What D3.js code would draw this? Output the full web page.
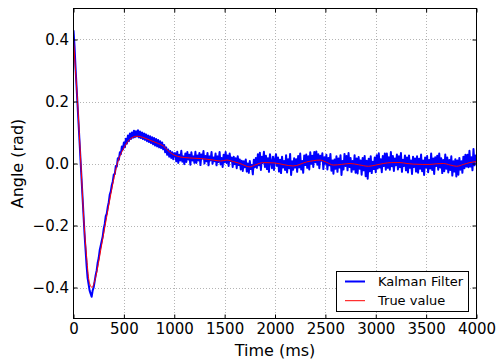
<!DOCTYPE html>
<html>
<head>
<meta charset="utf-8">
<script src="https://cdn.jsdelivr.net/npm/d3@7"></script>
<style>
  html, body { margin: 0; padding: 0; background: #fff; }
  svg { display: block; }
  text { font-family: "DejaVu Sans", sans-serif; fill: #000; }
</style>
</head>
<body>
<svg id="chart" width="500" height="364"></svg>
<script>
// ---------- DATA ----------
const xTicks = [0, 500, 1000, 1500, 2000, 2500, 3000, 3500, 4000];
const yTicks = [-0.4, -0.2, 0.0, 0.2, 0.4];
const xLabel = "Time (ms)";
const yLabel = "Angle (rad)";
const seriesNames = ["Kalman Filter", "True value"];

// True value (read at key times)
const trueTime = [0, 20, 40, 73, 106, 130, 150, 170, 185, 200, 225, 270, 314, 370, 435, 500, 560, 630, 700, 760, 830, 893, 950, 1000, 1060, 1150, 1260, 1390, 1460, 1520, 1590, 1653, 1750, 1800, 1885, 1990, 2090, 2180, 2315, 2447, 2510, 2580, 2660, 2745, 2830, 2927, 3000, 3076, 3160, 3241, 3310, 3373, 3460, 3538, 3600, 3671, 3740, 3803, 3870, 3935, 4000];
const trueValue = [0.40, 0.30, 0.20, 0.0, -0.20, -0.30, -0.37, -0.395, -0.40, -0.39, -0.36, -0.28, -0.20, -0.10, 0.0, 0.05, 0.078, 0.088, 0.083, 0.075, 0.066, 0.056, 0.038, 0.027, 0.021, 0.018, 0.016, 0.011, 0.008, 0.011, 0.006, 0.0, -0.011, -0.005, 0.003, 0.002, -0.004, -0.008, 0.005, 0.011, 0.004, -0.005, -0.003, 0.0, -0.004, -0.009, -0.005, 0.0, 0.003, 0.003, 0.0, -0.002, -0.003, -0.003, -0.001, 0.0, -0.005, -0.009, -0.003, 0.003, 0.006];

// Kalman filter output, one sample every 10 ms from 0 to 4000 ms
const kalmanStep = 10;
const kalmanValue = [
 .43,.38,.31,.25,.19,.13,.07,.01,-.05,-.11,
 -.17,-.23,-.28,-.33,-.37,-.39,-.41,-.42,-.43,-.41,
 -.40,-.38,-.36,-.345,-.32,-.305,-.28,-.265,-.25,-.235,
 -.21,-.195,-.17,-.162,-.14,-.125,-.10,-.09,-.07,-.058,
 -.035,-.034,-.008,-.01,.017,.012,.036,.03,.055,.045,
 .068,.052,.08,.064,.09,.072,.097,.079,.1,.083,
 .106,.085,.104,.087,.107,.084,.103,.082,.1,.079,
 .097,.076,.094,.072,.09,.069,.088,.066,.085,.062,
 .082,.058,.079,.055,.076,.052,.072,.05,.068,.046,
 .06,.036,.052,.028,.045,.022,.04,.018,.036,.014,
 .033,
 .033,.007,.038,.002,.028,.01,.041,.006,.023,-.002,
 .032,.005,.037,.013,.028,-.004,.036,.01,.023,.002,
 .038,.002,.026,.01,.034,-.005,.029,.016,.04,0,
 .024,.007,.034,-.006,.023,.01,.037,-.001,.019,.007,
 .032,-.006,.023,.005,.037,-.003,.018,-.011,.028,.004,
 .037,.002,.026,-.008,.032,.008,.019,-.011,.022,-.002,
 .017,-.015,.023,-.005,.013,-.019,.009,-.024,.007,-.012,
 .013,-.026,0,-.03,.008,-.018,-.005,-.035,.012,-.012,
 .018,-.014,.03,-.006,.035,-.021,.022,.002,.038,-.011,
 .025,-.018,.017,-.027,.03,.005,-.015,.022,-.021,.013,
 .03,-.008,.019,-.026,.012,-.031,.022,-.013,.008,-.021,
 .027,-.029,.014,-.015,.031,-.037,.007,-.02,.017,-.013,
 .014,-.027,.024,-.013,.032,-.019,.008,-.03,.026,-.005,
 .029,-.014,.023,-.019,.036,-.001,.025,-.011,.037,.004,
 .039,-.004,.03,-.015,.025,.009,.033,-.018,.02,-.001,
 .028,-.019,.018,-.006,.031,-.023,.01,-.033,.013,-.017,
 .023,-.027,.016,-.013,.027,-.037,.008,-.019,.031,-.008,
 .024,-.022,.034,-.011,.018,-.027,.008,-.019,.027,-.03,
 .016,-.032,.021,-.017,.01,-.036,.018,-.022,.024,-.041,
 .009,-.049,.015,-.025,.023,-.031,.006,-.018,.019,-.028,
 .027,-.016,.033,-.013,.014,-.028,.024,-.008,.032,-.02,
 .032,-.014,.02,-.02,.037,-.009,.024,-.024,.016,-.006,
 .029,-.019,.023,-.012,.034,-.027,.012,-.008,.026,-.022,
 .019,-.029,.026,-.014,.01,-.034,.022,-.011,.016,-.026,
 .023,-.03,.015,-.017,.029,-.025,.01,-.037,.019,-.013,
 .024,-.028,.011,-.016,.032,-.021,.016,-.034,.02,-.008,
 .025,-.02,.032,-.013,.017,-.031,.011,-.025,.029,-.017,
 .019,-.029,.011,-.021,.023,-.039,.007,-.026,.014,-.042,
 .01,-.036,.018,-.02,.007,-.03,.022,-.015,.028,-.01,
 .028,-.012,.041,-.01,.02,-.022,.047,-.006,.026,.012
];

// ---------- LAYOUT ----------
const svg = d3.select("#chart");
const L = 73.5, R = 476.5, T = 8.5, B = 318.5;

const x = d3.scaleLinear().domain([0, 4000]).range([L, R]);
const y = d3.scaleLinear().domain([-0.5, 0.5]).range([B, T]);

// grid
const grid = svg.append("g").attr("shape-rendering", "crispEdges");
grid.selectAll(".gx").data(xTicks.slice(1, -1)).enter().append("line")
  .attr("x1", d => Math.round(x(d)) + 0.5).attr("x2", d => Math.round(x(d)) + 0.5)
  .attr("y1", T).attr("y2", B)
  .attr("stroke", "#b4b4b4").attr("stroke-width", 1).attr("stroke-dasharray", "1,2");
grid.selectAll(".gy").data(yTicks).enter().append("line")
  .attr("x1", L).attr("x2", R)
  .attr("y1", d => Math.round(y(d)) + 0.5).attr("y2", d => Math.round(y(d)) + 0.5)
  .attr("stroke", "#b4b4b4").attr("stroke-width", 1).attr("stroke-dasharray", "1,2");

// data lines
svg.append("clipPath").attr("id", "clip").append("rect")
  .attr("x", L).attr("y", T).attr("width", R - L).attr("height", B - T);

const kalmanData = kalmanValue.map((v, i) => [i * kalmanStep, v]);
const trueData = trueTime.map((t, i) => [t, trueValue[i]]);

const line = d3.line().x(d => x(d[0])).y(d => y(d[1]));
const smooth = d3.line().x(d => x(d[0])).y(d => y(d[1])).curve(d3.curveMonotoneX);

const plot = svg.append("g").attr("clip-path", "url(#clip)");
plot.append("path").datum(kalmanData).attr("d", line)
  .attr("fill", "none").attr("stroke", "#0000ff").attr("stroke-width", 2)
  .attr("stroke-linejoin", "round");
plot.append("path").datum(trueData).attr("d", smooth)
  .attr("fill", "none").attr("stroke", "#ff0000").attr("stroke-width", 1);

// axes (inward ticks on all four sides)
const fmtY = d => d3.format(".1f")(d).replace("-", "\u2212");
const xAxisB = d3.axisBottom(x).tickValues(xTicks).tickSizeInner(-4).tickSizeOuter(0).tickPadding(5).tickFormat(d3.format("d"));
const xAxisT = d3.axisTop(x).tickValues(xTicks).tickSizeInner(-4).tickSizeOuter(0).tickFormat("");
const yAxisL = d3.axisLeft(y).tickValues(yTicks).tickSizeInner(-4).tickSizeOuter(0).tickPadding(4.5).tickFormat(fmtY);
const yAxisR = d3.axisRight(y).tickValues(yTicks).tickSizeInner(-4).tickSizeOuter(0).tickFormat("");

function style(g) {
  g.select(".domain").remove();
  g.selectAll("line").attr("stroke", "#000");
  g.selectAll("text").attr("font-size", 15).attr("font-family", "DejaVu Sans").attr("fill", "#000");
}
svg.append("g").attr("transform", `translate(0,${B})`).call(xAxisB).call(style);
svg.append("g").attr("transform", `translate(0,${T})`).call(xAxisT).call(style);
svg.append("g").attr("transform", `translate(${L},0)`).call(yAxisL).call(style);
svg.append("g").attr("transform", `translate(${R},0)`).call(yAxisR).call(style);

// frame
svg.append("rect").attr("x", L).attr("y", T).attr("width", R - L).attr("height", B - T)
  .attr("fill", "none").attr("stroke", "#000").attr("stroke-width", 1);

// axis labels
svg.append("text").attr("x", (L + R) / 2).attr("y", 356).attr("text-anchor", "middle")
  .attr("font-size", 16).text(xLabel);
svg.append("text").attr("transform", `translate(23,${(T + B) / 2}) rotate(-90)`)
  .attr("text-anchor", "middle").attr("font-size", 16).text(yLabel);

// legend
const lg = svg.append("g");
lg.append("rect").attr("x", 336.5).attr("y", 271.5).attr("width", 132).attr("height", 40)
  .attr("fill", "#fff").attr("stroke", "#000").attr("stroke-width", 1);
const colors = ["#0000ff", "#ff0000"];
const widths = [2, 1];
seriesNames.forEach((name, i) => {
  const yy = 281.5 + i * 19.2;
  lg.append("line").attr("x1", 345).attr("x2", 365).attr("y1", yy).attr("y2", yy)
    .attr("stroke", colors[i]).attr("stroke-width", widths[i]);
  lg.append("text").attr("x", 378).attr("y", yy + 4.7).attr("font-size", 13).text(name);
});
</script>
</body>
</html>
